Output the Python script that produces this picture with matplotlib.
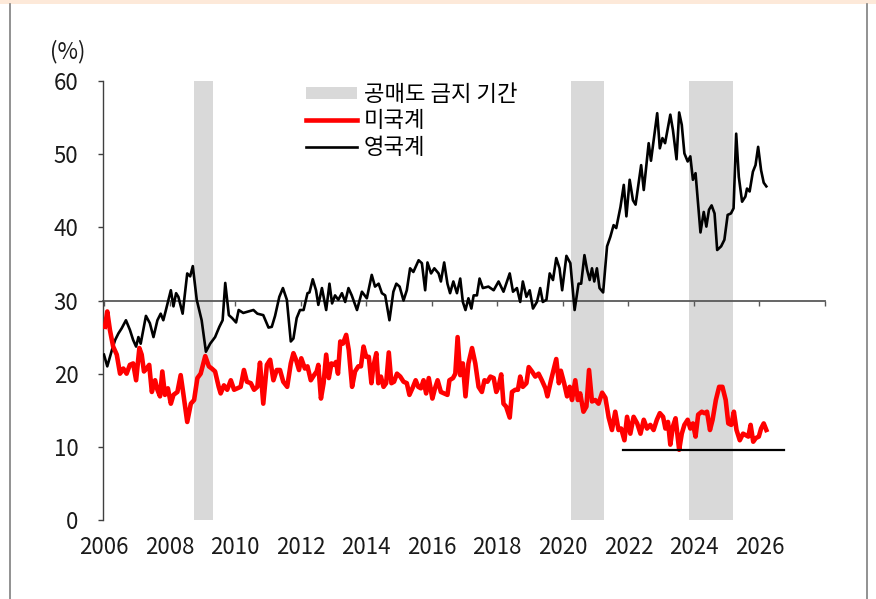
import matplotlib
matplotlib.use("Agg")
import matplotlib.pyplot as plt
import matplotlib.transforms as mtransforms
from matplotlib.lines import Line2D
from matplotlib.patches import Patch, Rectangle
import numpy as np

plt.rcParams['font.family'] = ['Noto Sans CJK KR', 'DejaVu Sans']

# ---- data -------------------------------------------------------------
# 영국계 (UK-based) share, % : (decimal year, value)
uk_years = [
    2006.00, 2006.10, 2006.24, 2006.34, 2006.44, 2006.54, 2006.67, 2006.79, 2006.89, 2006.98,
    2007.05, 2007.12, 2007.28, 2007.40, 2007.51, 2007.63, 2007.73, 2007.81, 2007.89, 2008.04,
    2008.12, 2008.20, 2008.27, 2008.40, 2008.54, 2008.63, 2008.71, 2008.83, 2008.98, 2009.11,
    2009.24, 2009.39, 2009.52, 2009.62, 2009.70, 2009.81, 2009.91, 2010.03, 2010.11, 2010.25,
    2010.41, 2010.56, 2010.68, 2010.86, 2011.02, 2011.12, 2011.22, 2011.35, 2011.46, 2011.58,
    2011.70, 2011.78, 2011.88, 2011.98, 2012.09, 2012.21, 2012.27, 2012.37, 2012.47, 2012.54,
    2012.65, 2012.78, 2012.88, 2012.96, 2013.05, 2013.15, 2013.26, 2013.36, 2013.46, 2013.56,
    2013.72, 2013.87, 2014.02, 2014.17, 2014.27, 2014.38, 2014.48, 2014.58, 2014.71, 2014.83,
    2014.92, 2015.02, 2015.14, 2015.24, 2015.34, 2015.44, 2015.60, 2015.70, 2015.80, 2015.87,
    2015.98, 2016.08, 2016.21, 2016.28, 2016.38, 2016.48, 2016.56, 2016.66, 2016.77, 2016.87,
    2016.95, 2017.03, 2017.12, 2017.21, 2017.28, 2017.38, 2017.46, 2017.56, 2017.73, 2017.89,
    2018.04, 2018.19, 2018.38, 2018.48, 2018.60, 2018.70, 2018.78, 2018.89, 2018.99, 2019.09,
    2019.21, 2019.31, 2019.39, 2019.50, 2019.60, 2019.70, 2019.80, 2019.90, 2019.98, 2020.11,
    2020.23, 2020.36, 2020.48, 2020.56, 2020.66, 2020.74, 2020.82, 2020.89, 2020.96, 2021.04,
    2021.12, 2021.23, 2021.35, 2021.45, 2021.55, 2021.63, 2021.76, 2021.86, 2021.94, 2022.04,
    2022.14, 2022.22, 2022.39, 2022.47, 2022.62, 2022.69, 2022.88, 2022.96, 2023.04, 2023.12,
    2023.28, 2023.36, 2023.47, 2023.55, 2023.63, 2023.71, 2023.81, 2023.89, 2023.97, 2024.05,
    2024.11, 2024.20, 2024.30, 2024.38, 2024.46, 2024.54, 2024.63, 2024.71, 2024.83, 2024.93,
    2025.03, 2025.13, 2025.21, 2025.29, 2025.37, 2025.47, 2025.57, 2025.62, 2025.70, 2025.80,
    2025.88, 2025.96, 2026.05, 2026.13, 2026.21,
]
uk_share = [
    22.6, 21.0, 23.2, 24.6, 25.5, 26.2, 27.3, 26.0, 24.6, 23.7,
    25.0, 24.1, 27.9, 26.9, 25.0, 27.3, 28.2, 27.3, 28.7, 31.4,
    29.2, 31.0, 30.5, 28.2, 33.7, 33.3, 34.7, 30.1, 27.3, 23.0,
    24.1, 25.0, 26.4, 27.3, 32.4, 28.0, 27.6, 27.0, 28.7, 28.3,
    28.5, 28.7, 28.2, 28.0, 26.3, 26.4, 27.9, 30.5, 31.7, 30.1,
    24.4, 24.8, 27.6, 28.7, 28.7, 31.0, 31.1, 32.9, 31.4, 29.4,
    31.7, 28.7, 32.3, 29.6, 30.7, 30.1, 31.0, 29.8, 31.7, 30.7,
    28.7, 31.2, 30.3, 33.5, 31.9, 32.3, 31.0, 30.7, 27.3, 31.2,
    32.3, 31.9, 30.0, 31.4, 34.4, 33.9, 35.5, 35.1, 31.4, 35.2,
    33.7, 34.4, 33.7, 32.6, 35.2, 32.3, 31.0, 32.6, 31.0, 33.0,
    29.8, 28.7, 30.3, 28.9, 30.7, 30.7, 33.0, 31.7, 31.9, 31.4,
    32.6, 31.2, 33.7, 31.2, 31.7, 29.8, 32.6, 30.5, 31.4, 28.9,
    29.8, 31.7, 29.8, 30.1, 33.7, 32.8, 35.8, 34.4, 31.4, 36.1,
    35.1, 28.7, 32.3, 32.3, 36.2, 34.2, 32.8, 34.4, 32.6, 34.4,
    31.7, 31.1, 37.4, 38.7, 40.3, 39.9, 42.8, 45.8, 41.5, 46.5,
    43.7, 43.1, 48.5, 45.1, 51.5, 49.1, 55.6, 50.8, 52.2, 51.5,
    55.4, 53.3, 49.3, 55.7, 54.0, 50.1, 49.0, 49.7, 46.5, 47.4,
    44.2, 39.3, 42.1, 40.1, 42.4, 43.0, 41.9, 36.9, 37.4, 38.3,
    41.7, 41.9, 42.6, 52.8, 46.9, 43.5, 44.2, 45.3, 44.9, 47.6,
    48.5, 51.0, 47.8, 46.1, 45.6,
]

# 미국계 (US-based) share, %
us_years = [
    2006.03, 2006.10, 2006.18, 2006.28, 2006.39, 2006.49, 2006.59, 2006.69, 2006.79, 2006.89,
    2006.98, 2007.08, 2007.15, 2007.22, 2007.30, 2007.38, 2007.46, 2007.56, 2007.63, 2007.71,
    2007.78, 2007.86, 2007.95, 2008.04, 2008.12, 2008.24, 2008.34, 2008.42, 2008.54, 2008.65,
    2008.75, 2008.85, 2008.95, 2009.09, 2009.20, 2009.29, 2009.39, 2009.50, 2009.56, 2009.66,
    2009.76, 2009.87, 2009.97, 2010.07, 2010.17, 2010.27, 2010.36, 2010.48, 2010.58, 2010.68,
    2010.76, 2010.86, 2010.97, 2011.07, 2011.17, 2011.27, 2011.37, 2011.47, 2011.59, 2011.70,
    2011.78, 2011.86, 2011.95, 2012.02, 2012.13, 2012.21, 2012.31, 2012.41, 2012.49, 2012.54,
    2012.62, 2012.70, 2012.78, 2012.86, 2012.94, 2013.02, 2013.08, 2013.14, 2013.21, 2013.29,
    2013.39, 2013.47, 2013.57, 2013.66, 2013.76, 2013.84, 2013.92, 2014.00, 2014.08, 2014.16,
    2014.22, 2014.31, 2014.37, 2014.45, 2014.53, 2014.61, 2014.69, 2014.77, 2014.85, 2014.94,
    2015.04, 2015.14, 2015.24, 2015.32, 2015.43, 2015.51, 2015.59, 2015.67, 2015.75, 2015.83,
    2015.91, 2016.02, 2016.10, 2016.18, 2016.28, 2016.38, 2016.48, 2016.54, 2016.65, 2016.72,
    2016.79, 2016.87, 2016.95, 2017.03, 2017.12, 2017.23, 2017.33, 2017.43, 2017.53, 2017.61,
    2017.70, 2017.79, 2017.89, 2017.97, 2018.04, 2018.12, 2018.19, 2018.27, 2018.38, 2018.45,
    2018.55, 2018.63, 2018.70, 2018.78, 2018.89, 2018.96, 2019.06, 2019.16, 2019.26, 2019.36,
    2019.47, 2019.53, 2019.64, 2019.73, 2019.80, 2019.88, 2019.94, 2020.04, 2020.13, 2020.21,
    2020.28, 2020.38, 2020.46, 2020.53, 2020.63, 2020.72, 2020.80, 2020.89, 2020.99, 2021.09,
    2021.20, 2021.30, 2021.40, 2021.50, 2021.60, 2021.70, 2021.78, 2021.88, 2021.96, 2022.06,
    2022.16, 2022.27, 2022.37, 2022.47, 2022.57, 2022.67, 2022.77, 2022.87, 2022.96, 2023.06,
    2023.13, 2023.21, 2023.28, 2023.36, 2023.44, 2023.55, 2023.63, 2023.71, 2023.81, 2023.89,
    2023.97, 2024.05, 2024.13, 2024.24, 2024.32, 2024.40, 2024.49, 2024.57, 2024.67, 2024.77,
    2024.87, 2024.97, 2025.05, 2025.14, 2025.22, 2025.30, 2025.40, 2025.50, 2025.58, 2025.66,
    2025.73, 2025.81, 2025.89, 2025.98, 2026.05, 2026.13, 2026.21,
]
us_share = [
    26.4, 28.5, 26.0, 23.7, 22.6, 20.0, 20.7, 20.0, 21.2, 21.4,
    19.1, 23.5, 22.6, 20.3, 20.7, 21.2, 17.5, 19.1, 17.8, 16.9,
    20.3, 17.1, 18.0, 15.9, 17.1, 17.5, 19.8, 17.3, 13.4, 15.9,
    16.4, 19.4, 20.0, 22.4, 21.0, 20.7, 20.3, 18.2, 17.3, 18.4,
    17.8, 19.1, 17.8, 18.0, 18.2, 20.5, 18.9, 18.7, 17.8, 18.2,
    21.5, 15.9, 21.2, 21.9, 19.1, 20.5, 20.5, 18.9, 18.2, 21.4,
    22.8, 21.9, 20.5, 22.1, 20.7, 21.0, 19.1, 19.8, 20.3, 21.2,
    16.6, 18.7, 22.6, 19.4, 21.4, 21.2, 21.6, 20.0, 24.4, 24.1,
    25.3, 23.2, 18.2, 20.3, 21.0, 21.0, 23.7, 22.3, 22.3, 18.7,
    21.0, 22.8, 18.7, 19.6, 18.2, 18.7, 22.9, 18.7, 18.9, 20.0,
    19.6, 18.9, 18.7, 17.1, 18.2, 19.1, 18.2, 18.0, 19.1, 17.3,
    19.4, 16.6, 18.0, 19.1, 17.5, 17.3, 17.1, 19.1, 19.4, 20.0,
    25.0, 19.8, 21.4, 16.9, 21.4, 23.5, 21.4, 18.2, 17.5, 19.1,
    18.9, 19.6, 19.4, 17.5, 18.2, 19.9, 15.9, 15.5, 14.0, 17.5,
    17.8, 17.8, 19.6, 18.2, 18.7, 20.9, 20.3, 19.6, 20.0, 19.1,
    18.0, 16.9, 19.1, 20.7, 22.0, 18.7, 20.4, 18.7, 16.9, 18.2,
    16.4, 19.1, 16.4, 17.3, 14.8, 15.5, 20.5, 16.2, 16.4, 15.9,
    17.4, 16.7, 14.0, 12.3, 14.8, 12.3, 12.5, 10.9, 14.1, 11.8,
    14.1, 13.2, 11.8, 13.7, 12.5, 13.0, 12.3, 13.7, 14.6, 14.1,
    12.5, 13.4, 10.3, 12.8, 13.9, 9.6, 11.8, 13.0, 13.7, 12.5,
    13.2, 11.4, 14.4, 14.8, 14.6, 14.8, 12.3, 13.7, 16.4, 18.2,
    18.2, 16.4, 13.2, 13.0, 14.8, 12.3, 10.9, 11.8, 11.6, 11.4,
    13.0, 10.7, 11.2, 11.4, 12.5, 13.2, 12.3,
]

# 공매도 금지 기간 (short-selling ban periods), decimal years
ban_periods = [(2008.75, 2009.33), (2020.26, 2021.27), (2023.86, 2025.18)]

# reference line at the US-based low, spanning the recent period
floor_span = (2021.85, 2026.75)

x_ticks = list(range(2006, 2029, 2))
x_labels = [str(y) for y in range(2006, 2027, 2)]
y_ticks = [0, 10, 20, 30, 40, 50, 60]

legend_labels = ['공매도 금지 기간', '미국계', '영국계']

# ---- figure -----------------------------------------------------------
W, H = 876, 599
FS = 16
fig = plt.figure(figsize=(W / 100, H / 100), dpi=100)

# page frame: peach strip along the top, grey rules left and right
fig.patches.append(Rectangle((0, 1 - 4 / H), 1, 4 / H, transform=fig.transFigure,
                             facecolor='#fde9d9', edgecolor='none', zorder=0))
fig.add_artist(Line2D([9.5 / W, 9.5 / W], [0, 1 - 4 / H], transform=fig.transFigure,
                      color='#7f7f7f', lw=1.2))
fig.add_artist(Line2D([866.5 / W, 866.5 / W], [0, 1 - 4 / H], transform=fig.transFigure,
                      color='#7f7f7f', lw=1.2))

ax_left, ax_right, ax_top, ax_bottom = 103, 825, 81, 520
ax = fig.add_axes([ax_left / W, 1 - ax_bottom / H,
                   (ax_right - ax_left) / W, (ax_bottom - ax_top) / H])
ax.set_xlim(2005.97, 2028.0)
ax.set_ylim(0, 60)

for s0, s1 in ban_periods:
    ax.axvspan(s0, s1, color='#d9d9d9', lw=0, zorder=1)

ax.plot(uk_years, uk_share, color='black', lw=1.9, zorder=3, solid_joinstyle='round')
ax.plot(us_years, us_share, color='#ff0000', lw=3.3, zorder=4, solid_joinstyle='round')

us_low = min(us_share)
ax.plot(floor_span, [us_low, us_low], color='black', lw=1.6, zorder=5)

# spines: y axis on the left, category axis crossing at 30
for side in ['top', 'right']:
    ax.spines[side].set_visible(False)
ax.spines['left'].set_color('#404040')
ax.spines['left'].set_linewidth(1.0)
ax.spines['bottom'].set_position(('data', 30))
ax.spines['bottom'].set_color('#595959')
ax.spines['bottom'].set_linewidth(1.3)
ax.spines['bottom'].set_zorder(2)

ax.set_yticks(y_ticks)
ax.set_yticklabels([str(v) for v in y_ticks])
ax.tick_params(axis='y', direction='out', length=3.6, width=1.0, color='#404040',
               labelsize=FS, labelcolor='#1a1a1a', pad=14)

ax.set_xticks(x_ticks)
ax.set_xticklabels([])
ax.tick_params(axis='x', direction='out', length=3.6, width=1.0, color='#595959')

lab_tr = mtransforms.blended_transform_factory(ax.transData, ax.transAxes)
for yr, txt in zip(range(2006, 2027, 2), x_labels):
    ax.text(yr, -0.062, txt, transform=lab_tr, ha='center', va='center',
            fontsize=FS, color='#1a1a1a')

fig.text(68 / W, 1 - 52 / H, '(%)', ha='center', va='center', fontsize=FS, color='#1a1a1a')

handles = [Patch(facecolor='#d9d9d9', edgecolor='none'),
           Line2D([], [], color='#ff0000', lw=3.3),
           Line2D([], [], color='black', lw=1.9)]
ax.legend(handles, legend_labels, loc='upper left',
          bbox_to_anchor=(306 / W, 1 - 83 / H), bbox_transform=fig.transFigure,
          frameon=False, fontsize=FS, handlelength=2.3, handleheight=0.45,
          handletextpad=0.3, labelspacing=0.15, borderpad=0, borderaxespad=0)

fig.savefig('out.png', dpi=100)
